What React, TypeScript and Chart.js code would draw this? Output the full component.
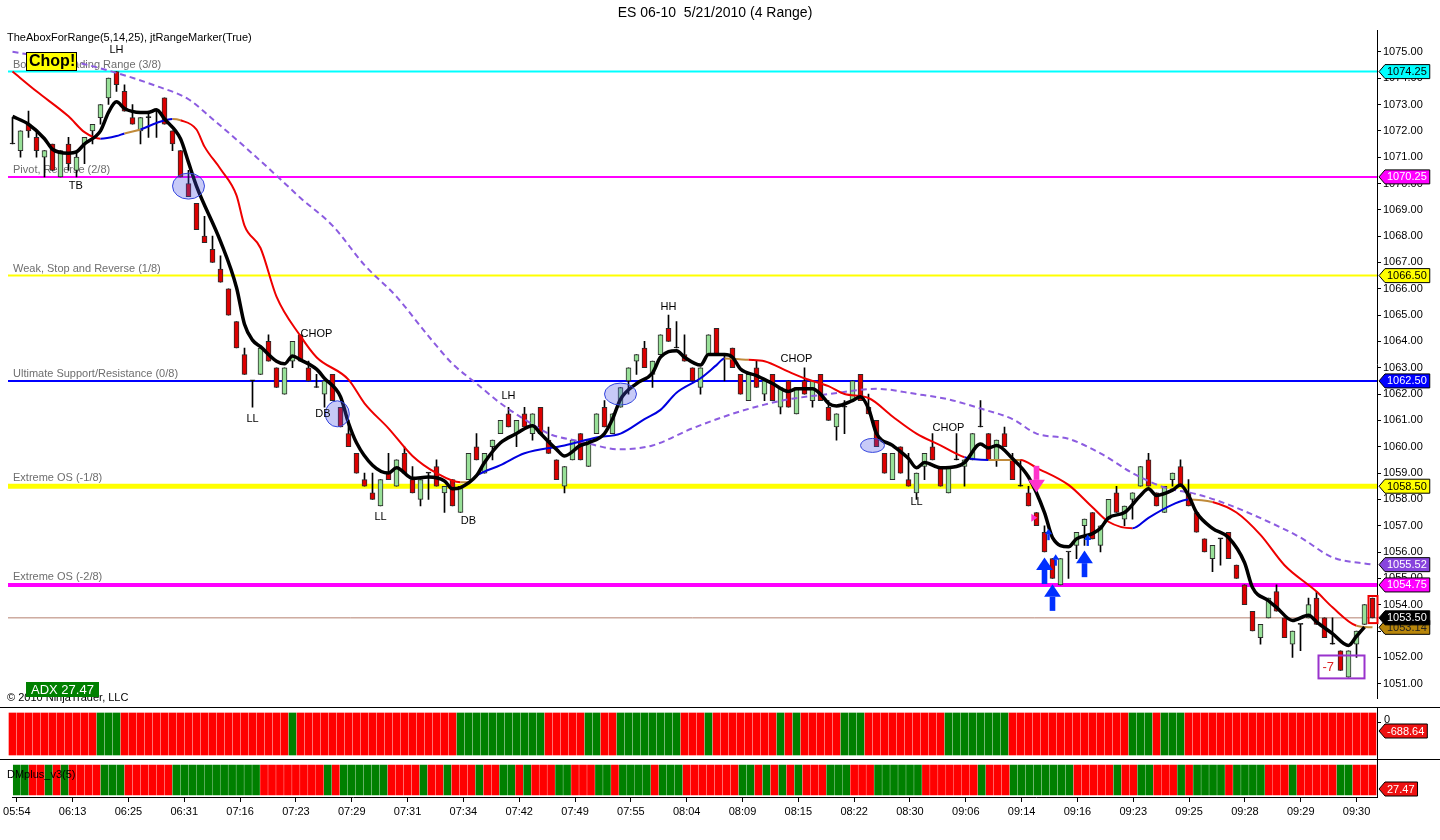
import { useEffect, useRef } from "react"
import { Chart, registerables } from "chart.js"

Chart.register(...registerables)

const FONT = "Arial, 'Liberation Sans', Helvetica, sans-serif"

// 4-tick range bars, ES 06-10, one value per bar
const opens = [
  1071.5, 1071.25, 1072.25, 1071.75, 1071.0, 1071.5, 1070.25, 1071.5, 1070.5, 1071.5,
  1072.0, 1072.5, 1073.25, 1074.25, 1073.5, 1072.5, 1072.0, 1072.5, 1072.75, 1073.25,
  1072.0, 1071.25, 1070.0, 1069.25, 1068.0, 1067.5, 1066.75, 1066.0, 1064.75, 1063.5,
  1062.5, 1062.75, 1064.0, 1063.0, 1062.0, 1063.25, 1064.25, 1063.0, 1062.25, 1062.0,
  1062.75, 1061.5, 1060.5, 1059.75, 1058.75, 1058.25, 1057.75, 1059.0, 1058.5, 1059.75,
  1058.75, 1058.0, 1059.0, 1059.25, 1058.25, 1058.75, 1057.5, 1058.75, 1060.0, 1059.0,
  1060.0, 1060.5, 1061.25, 1060.5, 1061.25, 1060.5, 1061.5, 1060.25, 1059.5, 1058.5,
  1059.5, 1060.5, 1059.25, 1060.5, 1061.5, 1060.5, 1061.5, 1062.5, 1063.25, 1063.75,
  1062.75, 1063.5, 1064.5, 1063.75, 1063.5, 1063.0, 1062.25, 1063.5, 1064.5, 1063.5,
  1063.75, 1062.75, 1061.75, 1063.0, 1062.0, 1062.75, 1061.5, 1062.5, 1061.25, 1062.5,
  1061.75, 1062.75, 1061.5, 1060.75, 1061.5, 1061.75, 1062.75, 1061.5, 1061.0, 1059.75,
  1058.75, 1060.0, 1058.75, 1058.25, 1059.25, 1060.0, 1059.25, 1058.25, 1059.5, 1059.25,
  1059.5, 1060.75, 1060.5, 1059.5, 1060.5, 1059.5, 1058.5, 1058.25, 1057.5, 1056.75,
  1055.75, 1054.75, 1056.0, 1056.25, 1057.0, 1057.5, 1056.25, 1057.25, 1058.25, 1057.25,
  1058.0, 1058.5, 1059.5, 1058.25, 1057.5, 1058.75, 1059.25, 1058.25, 1057.5, 1056.5,
  1055.75, 1056.5, 1056.75, 1055.5, 1054.75, 1053.75, 1052.75, 1053.5, 1054.5, 1053.5,
  1052.5, 1053.25, 1053.5, 1054.25, 1053.5, 1052.5, 1052.25, 1051.25, 1052.5, 1053.25,
  1054.25,
]
const highs = [
  1072.5, 1072.0, 1072.75, 1072.0, 1071.25, 1071.5, 1071.25, 1071.75, 1071.25, 1071.75,
  1072.25, 1073.0, 1074.0, 1074.25, 1073.75, 1073.0, 1072.5, 1072.75, 1072.75, 1073.25,
  1072.0, 1071.25, 1070.5, 1069.25, 1068.75, 1068.0, 1067.25, 1066.0, 1064.75, 1063.75,
  1062.5, 1063.75, 1064.25, 1063.0, 1063.0, 1064.0, 1064.25, 1063.25, 1062.75, 1062.5,
  1062.75, 1061.5, 1061.0, 1059.75, 1059.0, 1059.0, 1058.75, 1059.75, 1059.5, 1060.0,
  1059.25, 1058.75, 1059.0, 1059.5, 1058.5, 1058.75, 1058.5, 1059.75, 1060.5, 1059.75,
  1060.25, 1061.0, 1061.5, 1061.0, 1061.5, 1061.25, 1061.5, 1060.75, 1059.5, 1059.25,
  1060.25, 1060.5, 1060.25, 1061.25, 1061.75, 1061.25, 1062.25, 1063.0, 1063.5, 1064.0,
  1063.25, 1064.25, 1065.0, 1064.75, 1064.25, 1063.0, 1063.0, 1064.25, 1064.5, 1063.5,
  1063.75, 1062.75, 1062.75, 1063.25, 1062.5, 1062.75, 1062.25, 1062.5, 1062.25, 1063.0,
  1062.5, 1062.75, 1061.75, 1061.25, 1061.75, 1062.5, 1062.75, 1062.0, 1061.0, 1059.75,
  1059.75, 1060.0, 1059.75, 1059.0, 1059.75, 1060.5, 1059.25, 1059.25, 1060.5, 1059.5,
  1060.5, 1061.75, 1060.5, 1060.25, 1060.75, 1059.75, 1059.5, 1058.5, 1057.5, 1057.0,
  1055.75, 1055.75, 1056.0, 1056.75, 1057.25, 1057.5, 1057.0, 1058.0, 1058.5, 1057.75,
  1058.25, 1059.25, 1059.75, 1058.25, 1058.5, 1059.0, 1059.5, 1058.75, 1057.5, 1056.5,
  1056.25, 1056.5, 1056.75, 1055.5, 1054.75, 1053.75, 1053.25, 1054.25, 1054.75, 1053.5,
  1053.0, 1053.25, 1054.25, 1054.5, 1053.5, 1053.5, 1052.25, 1052.25, 1053.0, 1054.0,
  1054.25,
]
const lows = [
  1071.5, 1071.0, 1071.75, 1071.0, 1070.25, 1070.5, 1070.25, 1070.5, 1070.25, 1070.75,
  1071.5, 1072.25, 1073.0, 1073.5, 1072.75, 1072.25, 1071.5, 1071.75, 1071.75, 1072.25,
  1071.25, 1070.25, 1069.5, 1068.25, 1067.75, 1067.0, 1066.25, 1065.0, 1063.75, 1062.75,
  1061.5, 1062.75, 1063.25, 1062.25, 1062.0, 1063.0, 1063.25, 1062.5, 1062.25, 1061.5,
  1061.75, 1060.75, 1060.0, 1059.0, 1058.5, 1058.0, 1057.75, 1058.75, 1058.5, 1059.0,
  1058.25, 1057.75, 1058.0, 1058.5, 1057.5, 1057.75, 1057.5, 1058.75, 1059.5, 1059.0,
  1059.5, 1060.5, 1060.75, 1060.0, 1060.75, 1060.25, 1060.5, 1059.75, 1058.75, 1058.25,
  1059.5, 1059.5, 1059.25, 1060.5, 1060.75, 1060.5, 1061.5, 1062.0, 1062.75, 1063.0,
  1062.25, 1063.5, 1064.0, 1063.75, 1063.25, 1062.5, 1062.0, 1063.5, 1063.5, 1062.5,
  1063.0, 1062.0, 1061.75, 1062.25, 1061.75, 1061.75, 1061.25, 1061.5, 1061.25, 1062.0,
  1061.5, 1061.75, 1061.0, 1060.25, 1060.5, 1061.75, 1061.75, 1061.25, 1060.0, 1059.0,
  1058.75, 1059.0, 1058.5, 1058.0, 1058.75, 1059.5, 1058.5, 1058.25, 1059.5, 1058.5,
  1059.5, 1060.75, 1059.5, 1059.25, 1060.0, 1058.75, 1058.5, 1057.75, 1057.0, 1056.0,
  1055.0, 1054.75, 1055.0, 1055.75, 1056.25, 1056.5, 1056.0, 1057.25, 1057.5, 1057.0,
  1057.25, 1058.5, 1058.5, 1057.75, 1057.5, 1058.5, 1058.5, 1057.75, 1056.75, 1056.0,
  1055.25, 1055.5, 1055.75, 1055.0, 1054.0, 1053.0, 1052.5, 1053.5, 1053.75, 1052.75,
  1052.0, 1052.25, 1053.5, 1053.25, 1052.75, 1052.5, 1051.5, 1051.25, 1052.0, 1053.25,
  1053.5,
]
const closes = [
  1071.5, 1072.0, 1072.0, 1071.25, 1071.25, 1070.5, 1071.25, 1070.75, 1071.0, 1071.75,
  1072.25, 1073.0, 1074.0, 1073.75, 1072.75, 1072.25, 1072.5, 1072.5, 1072.75, 1072.25,
  1071.5, 1070.25, 1069.5, 1068.25, 1067.75, 1067.0, 1066.25, 1065.0, 1063.75, 1062.75,
  1062.5, 1063.75, 1063.25, 1062.25, 1063.0, 1064.0, 1063.25, 1062.5, 1062.25, 1062.5,
  1061.75, 1060.75, 1060.0, 1059.0, 1058.5, 1058.0, 1058.75, 1058.75, 1059.5, 1059.0,
  1058.25, 1058.75, 1059.0, 1058.5, 1058.5, 1057.75, 1058.5, 1059.75, 1059.5, 1059.75,
  1060.25, 1061.0, 1060.75, 1061.0, 1060.75, 1061.25, 1060.5, 1059.75, 1058.75, 1059.25,
  1060.25, 1059.5, 1060.25, 1061.25, 1060.75, 1061.25, 1062.25, 1063.0, 1063.5, 1063.0,
  1063.25, 1064.25, 1064.0, 1063.75, 1063.25, 1062.5, 1063.0, 1064.25, 1063.5, 1063.5,
  1063.0, 1062.0, 1062.75, 1062.25, 1062.5, 1061.75, 1062.25, 1061.5, 1062.25, 1062.0,
  1062.5, 1061.75, 1061.0, 1061.25, 1061.5, 1062.5, 1061.75, 1061.25, 1060.0, 1059.0,
  1059.75, 1059.0, 1058.5, 1059.0, 1059.75, 1059.5, 1058.5, 1059.25, 1059.5, 1059.5,
  1060.5, 1060.75, 1059.5, 1060.25, 1060.0, 1058.75, 1058.5, 1057.75, 1057.0, 1056.0,
  1055.0, 1055.75, 1056.0, 1056.75, 1057.25, 1056.5, 1057.0, 1058.0, 1057.5, 1057.75,
  1058.25, 1059.25, 1058.5, 1057.75, 1058.5, 1059.0, 1058.5, 1057.75, 1056.75, 1056.0,
  1056.25, 1056.5, 1055.75, 1055.0, 1054.0, 1053.0, 1053.25, 1054.25, 1053.75, 1052.75,
  1053.0, 1053.25, 1054.0, 1053.25, 1052.75, 1052.5, 1051.5, 1052.25, 1053.0, 1054.0,
  1053.5,
]

const timeLabels = [
  "05:54", "06:13", "06:25", "06:31", "07:16", "07:23", "07:29", "07:31", "07:34",
  "07:42", "07:49", "07:55", "08:04", "08:09", "08:15", "08:22", "08:30", "09:06",
  "09:14", "09:16", "09:23", "09:25", "09:28", "09:29", "09:30",
]
const barsPerLabel = 7
const priceTicks = [
  1051, 1052, 1053, 1054, 1055, 1056, 1057, 1058, 1059, 1060, 1061, 1062, 1063,
  1064, 1065, 1066, 1067, 1068, 1069, 1070, 1071, 1072, 1073, 1074, 1075,
]

// Murrey math levels
const levelValues = [1074.25, 1070.25, 1066.5, 1062.5, 1058.5, 1054.75]
const levelNames = [
  "Bottom of Trading Range (3/8)",
  "Pivot, Reverse (2/8)",
  "Weak, Stop and Reverse (1/8)",
  "Ultimate Support/Resistance (0/8)",
  "Extreme OS (-1/8)",
  "Extreme OS (-2/8)",
]
const levelColors = ["#00ffff", "#ff00ff", "#ffff00", "#0000ff", "#ffff00", "#ff00ff"]
const levelTextColors = ["#000", "#fff", "#000", "#fff", "#000", "#fff"]
const levelWidths = [2, 2, 2, 2, 5, 4]

// moving averages: [bar, price]
const fastMa: [number, number][] = [
  [0, 1072.55], [2, 1072.25], [4, 1071.7], [5, 1071.3], [7, 1071.15], [8, 1071.2], [9, 1071.5],
  [11, 1072.0], [12, 1072.7], [13, 1073.1], [14, 1072.85], [16, 1072.7], [17, 1072.7], [18, 1072.8],
  [19, 1072.45], [21, 1071.7], [22, 1070.8], [23, 1069.9], [26, 1067.8], [28, 1066.05], [29, 1064.65],
  [30, 1064.05], [31, 1063.8], [33, 1063.25], [34, 1063.15], [35, 1063.45], [36, 1063.3], [38, 1062.95],
  [39, 1062.6], [41, 1061.9], [42, 1060.9], [43, 1060.15], [45, 1059.3], [47, 1059.0], [48, 1059.2],
  [50, 1058.8], [52, 1058.85], [54, 1058.7], [55, 1058.4], [56, 1058.45], [58, 1058.9], [59, 1059.4],
  [61, 1060.15], [63, 1060.5], [65, 1060.8], [66, 1060.5], [68, 1059.9], [69, 1059.65], [71, 1060.05],
  [72, 1060.15], [74, 1060.5], [75, 1061.05], [76, 1061.8], [78, 1062.4], [80, 1062.8], [81, 1063.4],
  [83, 1063.65], [84, 1063.4], [86, 1063.1], [87, 1063.5], [89, 1063.5], [90, 1063.4], [91, 1062.95],
  [93, 1062.7], [95, 1062.4], [97, 1062.1], [98, 1062.2], [100, 1062.2], [101, 1062.0], [102, 1061.65],
  [103, 1061.55], [105, 1061.75], [106, 1061.9], [107, 1061.45], [108, 1060.5], [110, 1060.05],
  [112, 1059.55], [113, 1059.2], [114, 1059.4], [116, 1059.2], [118, 1059.25], [119, 1059.4],
  [121, 1060.1], [122, 1059.95], [123, 1060.05], [125, 1059.55], [127, 1058.85], [129, 1057.5],
  [130, 1056.55], [132, 1056.2], [133, 1056.5], [135, 1056.7], [136, 1056.9], [137, 1057.3],
  [139, 1057.5], [141, 1058.15], [142, 1058.4], [143, 1058.15], [145, 1058.35], [146, 1058.55],
  [147, 1058.15], [148, 1057.5], [150, 1056.9], [152, 1056.55], [154, 1055.6], [155, 1054.65],
  [157, 1054.15], [158, 1053.9], [160, 1053.4], [162, 1053.6], [163, 1053.35], [165, 1052.9],
  [167, 1052.45], [168, 1052.8], [169, 1053.15],
]
const midMa: [number, number][] = [
  [0, 1074.25], [3, 1073.5], [7, 1072.55], [9, 1071.95], [11, 1071.7], [13, 1071.8], [14, 1071.9],
  [16, 1072.05], [18, 1072.3], [20, 1072.45], [21, 1072.4], [23, 1072.05], [24, 1071.4], [26, 1070.55],
  [28, 1069.55], [29, 1068.4], [31, 1067.55], [33, 1065.7], [36, 1064.2], [38, 1063.4], [42, 1062.55],
  [44, 1061.65], [47, 1060.7], [50, 1059.65], [53, 1059.0], [56, 1058.65], [57, 1058.65], [58, 1058.9],
  [61, 1059.3], [64, 1059.75], [69, 1060.05], [73, 1060.35], [76, 1060.5], [79, 1061.05], [81, 1061.4],
  [83, 1062.05], [86, 1062.6], [88, 1063.1], [89, 1063.35], [92, 1063.3], [94, 1063.25], [97, 1062.85],
  [99, 1062.6], [102, 1062.3], [104, 1062.0], [107, 1061.85], [110, 1061.15], [113, 1060.5],
  [116, 1060.05], [119, 1059.6], [122, 1059.5], [126, 1059.5], [128, 1059.2], [132, 1058.55],
  [135, 1057.7], [137, 1057.15], [140, 1056.9], [142, 1057.3], [145, 1057.8], [147, 1058.0],
  [150, 1057.9], [153, 1057.5], [156, 1056.65], [159, 1055.5], [163, 1054.5], [165, 1053.9],
  [168, 1053.2], [170, 1053.14],
]
const slowMa: [number, number][] = [
  [0, 1075.0], [8, 1074.6], [13, 1074.2], [18, 1073.7], [22, 1073.2], [25, 1072.45], [29, 1071.4],
  [33, 1070.3], [36, 1069.45], [40, 1068.4], [44, 1066.9], [48, 1065.7], [52, 1064.2], [55, 1063.15],
  [58, 1062.4], [61, 1061.65], [65, 1060.85], [67, 1060.5], [71, 1060.2], [76, 1059.9], [80, 1060.05],
  [85, 1060.7], [90, 1061.25], [94, 1061.6], [97, 1061.8], [102, 1062.0], [108, 1062.2], [113, 1062.0],
  [117, 1061.8], [121, 1061.45], [125, 1061.05], [128, 1060.5], [132, 1060.3], [136, 1059.75],
  [140, 1059.0], [144, 1058.45], [148, 1058.2], [152, 1057.8], [157, 1057.15], [161, 1056.55],
  [165, 1055.8], [170, 1055.52],
]
// where the middle average turns blue (rising) or tan (flat)
const midUpSpans = [[11, 14], [16, 20], [57, 89], [119, 122], [140, 147]]
const midFlatSpans = [[14, 16], [20, 21], [56, 57], [89, 92], [122, 126], [147, 150], [168, 170]]

// lower panels: runs of red / green bars
const deltaRuns: [string, number][] = [
  ["R", 11], ["G", 3], ["R", 21], ["G", 1], ["R", 20], ["G", 11], ["R", 5], ["G", 2], ["R", 2],
  ["G", 8], ["R", 3], ["G", 1], ["R", 8], ["G", 1], ["R", 1], ["G", 1], ["R", 5], ["G", 3],
  ["R", 10], ["G", 8], ["R", 15], ["G", 3], ["R", 1], ["G", 3], ["R", 24],
]
const dmRuns: [string, number][] = [
  ["G", 2], ["R", 2], ["G", 1], ["R", 1], ["G", 1], ["R", 4], ["G", 3], ["R", 6], ["G", 11],
  ["R", 8], ["G", 1], ["R", 1], ["G", 6], ["R", 4], ["G", 1], ["R", 2], ["G", 1], ["R", 3],
  ["G", 1], ["R", 2], ["G", 2], ["R", 1], ["G", 1], ["R", 3], ["G", 2], ["R", 3], ["G", 2],
  ["R", 1], ["G", 4], ["R", 1], ["G", 3], ["R", 7], ["G", 2], ["R", 1], ["G", 1], ["R", 1],
  ["G", 1], ["R", 1], ["G", 1], ["R", 3], ["G", 3], ["R", 3], ["G", 6], ["R", 7], ["G", 1],
  ["R", 3], ["G", 8], ["R", 5], ["G", 1], ["R", 2], ["G", 2], ["R", 3], ["G", 1], ["R", 1],
  ["G", 4], ["R", 1], ["G", 4], ["R", 3], ["G", 1], ["R", 5], ["G", 2], ["R", 3],
]
const deltaLast = -688.64
const adxLast = 27.47
const rangeCount = -7

// chart markers
const swingLabels = [
  { bar: 13, price: 1075.08, text: "LH" },
  { bar: 7.9, price: 1069.92, text: "TB" },
  { bar: 30, price: 1061.05, text: "LL" },
  { bar: 38, price: 1064.3, text: "CHOP" },
  { bar: 38.8, price: 1061.25, text: "DB" },
  { bar: 46, price: 1057.33, text: "LL" },
  { bar: 57, price: 1057.18, text: "DB" },
  { bar: 62, price: 1061.92, text: "LH" },
  { bar: 82, price: 1065.3, text: "HH" },
  { bar: 98, price: 1063.35, text: "CHOP" },
  { bar: 117, price: 1060.7, text: "CHOP" },
  { bar: 113, price: 1057.9, text: "LL" },
]
const circles = [
  { bar: 22, price: 1069.9, rx: 16, ry: 13 },
  { bar: 40.6, price: 1061.25, rx: 12, ry: 13 },
  { bar: 76, price: 1062.0, rx: 16, ry: 11 },
  { bar: 107.5, price: 1060.05, rx: 12, ry: 7 },
]
const upArrows = [
  { bar: 129, price: 1055.53 },
  { bar: 130, price: 1054.51 },
  { bar: 134, price: 1055.79 },
]
const smallUpArrows = [
  { bar: 129.5, price: 1056.77 },
  { bar: 130.4, price: 1055.8 },
  { bar: 134.4, price: 1056.55 },
]
const downArrows = [{ bar: 128, price: 1058.53 }]
const sideArrows = [{ bar: 127.6, price: 1057.3 }]

// bar centres land on half pixels so 1px wicks and 7px panel bars stay crisp
const X_MIN = -0.5625
const X_MAX = 170.5625
const RED = "#ff0000"
const GREEN = "#008000"

const expand = (runs: [string, number][]) => runs.flatMap(([c, n]) => Array(n).fill(c === "G" ? GREEN : RED))

function inSpan(spans: number[][], a: number, b: number) {
  return spans.some(([s, e]) => a >= s && b <= e)
}

function drawTag(ctx: CanvasRenderingContext2D, x: number, y: number, text: string, bg: string, fg: string) {
  ctx.font = `11px ${FONT}`
  const w = ctx.measureText(text).width + 5
  ctx.beginPath()
  ctx.moveTo(x, y)
  ctx.lineTo(x + 6, y - 7)
  ctx.lineTo(x + 6 + w, y - 7)
  ctx.lineTo(x + 6 + w, y + 7)
  ctx.lineTo(x + 6, y + 7)
  ctx.closePath()
  ctx.fillStyle = bg
  ctx.fill()
  ctx.strokeStyle = "#000"
  ctx.lineWidth = 1
  ctx.stroke()
  ctx.fillStyle = fg
  ctx.textAlign = "left"
  ctx.textBaseline = "middle"
  ctx.fillText(text, x + 8, y + 0.5)
}

function drawArrow(ctx: CanvasRenderingContext2D, x: number, y: number, color: string, dir: number, size: number) {
  // dir 1 = up, -1 = down
  ctx.fillStyle = color
  ctx.beginPath()
  ctx.moveTo(x, y - dir * size)
  ctx.lineTo(x - size * 0.6, y - dir * size * 0.1)
  ctx.lineTo(x + size * 0.6, y - dir * size * 0.1)
  ctx.closePath()
  ctx.fill()
  const top = dir > 0 ? y - size * 0.1 : y + size * 0.1 - size
  ctx.fillRect(x - size * 0.2, top, size * 0.4, size)
}

const pricePlugin = {
  id: "priceOverlay",
  beforeDatasetsDraw(chart: any) {
    const { ctx, scales } = chart
    ctx.save()
    ctx.font = `11px ${FONT}`
    ctx.fillStyle = "#6e6e6e"
    ctx.textAlign = "left"
    ctx.textBaseline = "bottom"
    levelValues.forEach((v, k) => {
      const y = scales.y.getPixelForValue(v)
      ctx.fillText(levelNames[k], 13, y - Math.ceil(levelWidths[k] / 2))
    })
    ctx.restore()
  },
  afterDatasetsDraw(chart: any) {
    const { ctx, scales } = chart
    const px = (b: number) => scales.x.getPixelForValue(b)
    const py = (p: number) => scales.y.getPixelForValue(p)
    ctx.save()
    circles.forEach((c) => {
      ctx.beginPath()
      ctx.ellipse(px(c.bar), py(c.price), c.rx, c.ry, 0, 0, Math.PI * 2)
      ctx.fillStyle = "rgba(70, 80, 230, 0.3)"
      ctx.fill()
      ctx.strokeStyle = "#3344dd"
      ctx.lineWidth = 1
      ctx.stroke()
    })
    ctx.font = `11px ${FONT}`
    ctx.fillStyle = "#000"
    ctx.textAlign = "center"
    ctx.textBaseline = "middle"
    swingLabels.forEach((s) => ctx.fillText(s.text, px(s.bar), py(s.price)))

    upArrows.forEach((a) => drawArrow(ctx, px(a.bar), py(a.price) + 7, "#0030ff", 1, 14))
    smallUpArrows.forEach((a) => drawArrow(ctx, px(a.bar), py(a.price) + 3, "#0030ff", 1, 6))
    downArrows.forEach((a) => drawArrow(ctx, px(a.bar), py(a.price) - 7, "#ff33cc", -1, 14))
    sideArrows.forEach((a) => {
      const x = px(a.bar)
      const y = py(a.price)
      ctx.fillStyle = "#ff33cc"
      ctx.beginPath()
      ctx.moveTo(x + 4, y)
      ctx.lineTo(x - 2, y - 4)
      ctx.lineTo(x - 2, y + 4)
      ctx.closePath()
      ctx.fill()
    })

    // range counter box
    const last = closes.length - 1
    ctx.strokeStyle = "#9933cc"
    ctx.lineWidth = 2
    const bx = px(last - 6.75)
    const by = py(1052.07)
    ctx.strokeRect(bx, by, px(last - 1) - bx, py(1051.2) - by)
    ctx.fillStyle = "#dd2222"
    ctx.font = `13px ${FONT}`
    ctx.textAlign = "left"
    ctx.fillText(String(rangeCount), bx + 4, by + 12)
    // current bar outline
    ctx.strokeStyle = "#ee0000"
    ctx.strokeRect(px(last - 0.5), py(highs[last] + 0.08), 9, py(lows[last] - 0.2) - py(highs[last] + 0.08))
    ctx.restore()
  },
  afterDraw(chart: any) {
    const { ctx, scales } = chart
    const py = (p: number) => scales.y.getPixelForValue(p)
    ctx.save()
    ctx.fillStyle = "#000"
    ctx.textBaseline = "middle"
    ctx.font = `14px ${FONT}`
    ctx.textAlign = "center"
    ctx.fillText("ES 06-10  5/21/2010 (4 Range)", 715, 13)
    ctx.font = `11px ${FONT}`
    ctx.textAlign = "left"
    ctx.fillText("TheAboxForRange(5,14,25), jtRangeMarker(True)", 7, 38)
    ctx.fillText("\u00a9 2010 NinjaTrader, LLC", 7, 698)

    // Chop! badge
    ctx.fillStyle = "#ffff00"
    ctx.fillRect(26, 52, 51, 19)
    ctx.strokeStyle = "#000"
    ctx.lineWidth = 1
    ctx.strokeRect(26.5, 52.5, 50, 18)
    ctx.fillStyle = "#000"
    ctx.font = `bold 16px ${FONT}`
    ctx.fillText("Chop!", 29, 62)

    // ADX badge
    ctx.fillStyle = "#008000"
    ctx.fillRect(26, 682, 73, 15)
    ctx.fillStyle = "#fff"
    ctx.font = `13px ${FONT}`
    ctx.fillText(`ADX ${adxLast.toFixed(2)}`, 31, 690)

    // value tags on the price axis
    const tipX = scales.y.left + 2
    levelValues.forEach((v, k) => {
      drawTag(ctx, tipX, py(v), v.toFixed(2), levelColors[k], levelTextColors[k])
    })
    const slowLast = slowMa[slowMa.length - 1][1]
    const midLast = midMa[midMa.length - 1][1]
    const closeLast = closes[closes.length - 1]
    drawTag(ctx, tipX, py(slowLast), slowLast.toFixed(2), "#8844dd", "#fff")
    drawTag(ctx, tipX, py(midLast), midLast.toFixed(2), "#b8860b", "#222")
    drawTag(ctx, tipX, py(closeLast), closeLast.toFixed(2), "#000", "#fff")
    ctx.restore()
  },
}

function panelPlugin(id: string, tag: string, tagY: number, label: string | null, zeroLabel: boolean) {
  return {
    id,
    afterDatasetsDraw(chart: any) {
      const { ctx, chartArea } = chart
      ctx.save()
      if (label) {
        ctx.font = `11px ${FONT}`
        ctx.fillStyle = "#000"
        ctx.textAlign = "left"
        ctx.textBaseline = "middle"
        ctx.fillText(label, 7, chartArea.top + 16)
      }
      ctx.restore()
    },
    afterDraw(chart: any) {
      const { ctx, chartArea, width } = chart
      ctx.save()
      ctx.strokeStyle = "#000"
      ctx.lineWidth = 1
      ctx.beginPath()
      ctx.moveTo(0, chartArea.top + 0.5)
      ctx.lineTo(width, chartArea.top + 0.5)
      ctx.stroke()
      if (zeroLabel) {
        ctx.beginPath()
        ctx.moveTo(chartArea.right, chartArea.top + 15.5)
        ctx.lineTo(chartArea.right + 4, chartArea.top + 15.5)
        ctx.stroke()
        ctx.font = `11px ${FONT}`
        ctx.fillStyle = "#000"
        ctx.textAlign = "left"
        ctx.textBaseline = "middle"
        ctx.fillText("0", chartArea.right + 7, chartArea.top + 13)
      }
      drawTag(ctx, chartArea.right + 2, chartArea.top + tagY, tag, "#ee1111", "#fff")
      ctx.restore()
    },
  }
}

function panelConfig(colors: string[], lo: number, hi: number, withAxis: boolean, plugin: any) {
  return {
    type: "bar",
    data: {
      datasets: [
        {
          data: colors.map((_, i) => ({ x: i, y: [lo, hi] })),
          backgroundColor: colors,
          borderWidth: 0,
          barThickness: 7,
          grouped: false,
        },
      ],
    },
    options: {
      animation: false,
      responsive: true,
      maintainAspectRatio: false,
      events: [],
      layout: { padding: { left: 8, right: 0, top: 0, bottom: 0 }, autoPadding: false },
      plugins: { legend: { display: false }, tooltip: { enabled: false } },
      scales: {
        x: {
          type: "linear",
          min: X_MIN,
          max: X_MAX,
          offset: false,
          display: withAxis,
          afterFit: (s: any) => {
            if (withAxis) s.height = 43
          },
          afterBuildTicks: (s: any) => {
            s.ticks = timeLabels.map((_, k) => ({ value: k * barsPerLabel }))
          },
          ticks: {
            autoSkip: false,
            maxRotation: 0,
            padding: 3,
            color: "#000",
            font: { family: FONT, size: 11 },
            callback: (v: number) => timeLabels[Math.round(v / barsPerLabel)] ?? "",
          },
          grid: { drawOnChartArea: false, offset: false, tickLength: 5, color: "#000" },
          border: { color: "#000" },
        },
        y: {
          position: "right",
          min: 0,
          max: 1,
          afterFit: (s: any) => {
            s.width = 63
          },
          ticks: { display: false },
          grid: { display: false },
          border: { display: true, color: "#000" },
        },
      },
    },
    plugins: [plugin],
  }
}

export default function App() {
  const priceRef = useRef<HTMLCanvasElement>(null)
  const deltaRef = useRef<HTMLCanvasElement>(null)
  const dmRef = useRef<HTMLCanvasElement>(null)

  useEffect(() => {
    if (!priceRef.current || !deltaRef.current || !dmRef.current) return

    const bodyColors = closes.map((c, i) => (c > opens[i] ? "#98e098" : c < opens[i] ? "#dd0000" : "#000"))

    const levelSets = levelValues.map((v, k) => ({
      type: "line",
      data: [
        { x: X_MIN, y: v },
        { x: X_MAX, y: v },
      ],
      borderColor: levelColors[k],
      borderWidth: levelWidths[k],
      pointRadius: 0,
      order: 7,
    }))

    const priceChart = new Chart(priceRef.current, {
      type: "bar",
      data: {
        datasets: [
          ...levelSets,
          {
            type: "line",
            data: [
              { x: X_MIN, y: closes[closes.length - 1] },
              { x: X_MAX, y: closes[closes.length - 1] },
            ],
            borderColor: "#b48070",
            borderWidth: 1,
            pointRadius: 0,
            order: 6,
          },
          {
            data: closes.map((_, i) => ({ x: i, y: [lows[i], highs[i]] })),
            backgroundColor: "#000",
            borderWidth: 0,
            barThickness: 1,
            grouped: false,
            order: 5,
          },
          {
            data: closes.map((c, i) => ({ x: i, y: [opens[i], c] })),
            backgroundColor: bodyColors,
            borderColor: "#2a2a2a",
            borderWidth: 1,
            borderSkipped: false,
            barThickness: 5,
            minBarLength: 1,
            grouped: false,
            order: 4,
          },
          {
            type: "line",
            data: slowMa.map(([x, y]) => ({ x, y })),
            borderColor: "#8c5ce0",
            borderWidth: 2,
            borderDash: [6, 4],
            pointRadius: 0,
            cubicInterpolationMode: "monotone",
            order: 3,
          },
          {
            type: "line",
            data: midMa.map(([x, y]) => ({ x, y })),
            borderColor: "#ee0000",
            borderWidth: 2,
            pointRadius: 0,
            cubicInterpolationMode: "monotone",
            segment: {
              borderColor: (c: any) =>
                inSpan(midUpSpans, c.p0.parsed.x, c.p1.parsed.x)
                  ? "#0000e0"
                  : inSpan(midFlatSpans, c.p0.parsed.x, c.p1.parsed.x)
                    ? "#c08a3a"
                    : "#ee0000",
            },
            order: 2,
          },
          {
            type: "line",
            data: fastMa.map(([x, y]) => ({ x, y })),
            borderColor: "#000",
            borderWidth: 3.5,
            pointRadius: 0,
            cubicInterpolationMode: "monotone",
            order: 1,
          },
        ],
      },
      options: {
        animation: false,
        responsive: true,
        maintainAspectRatio: false,
        events: [],
        layout: { padding: { left: 8, right: 0, top: 30, bottom: 2 }, autoPadding: false },
        plugins: { legend: { display: false }, tooltip: { enabled: false } },
        scales: {
          x: { type: "linear", min: X_MIN, max: X_MAX, offset: false, display: false },
          y: {
            position: "right",
            min: 1050.44,
            max: 1075.83,
            afterFit: (s: any) => {
              s.width = 63
            },
            afterBuildTicks: (s: any) => {
              s.ticks = priceTicks.map((value) => ({ value }))
            },
            ticks: {
              autoSkip: false,
              padding: 2,
              color: "#000",
              font: { family: FONT, size: 11 },
              callback: (v: number) => Number(v).toFixed(2),
            },
            grid: { drawOnChartArea: false, tickLength: 4, color: "#000" },
            border: { color: "#000" },
          },
        },
      },
      plugins: [pricePlugin],
    } as any)

    const deltaChart = new Chart(
      deltaRef.current,
      panelConfig(expand(deltaRuns), 0.077, 0.885, false, panelPlugin("deltaOverlay", deltaLast.toFixed(2), 24, null, true)) as any
    )
    const dmChart = new Chart(
      dmRef.current,
      panelConfig(expand(dmRuns), 0.053, 0.842, true, panelPlugin("dmOverlay", adxLast.toFixed(2), 30, "DMplus_v3(5)", false)) as any
    )

    return () => {
      priceChart.destroy()
      deltaChart.destroy()
      dmChart.destroy()
    }
  }, [])

  const box = (top: number, height: number) =>
    ({ position: "absolute", left: 0, top, width: 1440, height }) as const

  return (
    <div style={{ position: "absolute", left: 0, top: 0, width: 1440, height: 840, background: "#fff", overflow: "hidden" }}>
      <div style={box(0, 707)}>
        <canvas ref={priceRef} />
      </div>
      <div style={box(707, 52)}>
        <canvas ref={deltaRef} />
      </div>
      <div style={box(759, 81)}>
        <canvas ref={dmRef} />
      </div>
    </div>
  )
}
